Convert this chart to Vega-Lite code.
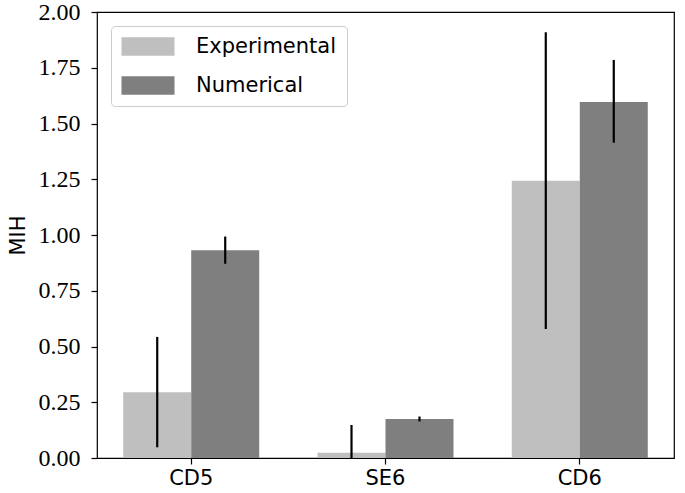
{
  "$schema": "https://vega.github.io/schema/vega-lite/v6.json",
  "autosize": "none",
  "padding": {"left": 97, "top": 12, "right": 11, "bottom": 35},
  "width": 577,
  "height": 446,
  "background": "white",
  "config": {
    "view": {"stroke": "black", "strokeWidth": 1.2},
    "axis": {"grid": false, "domain": false, "tickColor": "black", "tickSize": 6, "tickWidth": 1.2, "labelColor": "black", "titleColor": "black"}
  },
  "data": {
    "values": [
      {"sample": "CD5", "source": "Experimental", "mih": 0.295, "lo": 0.048, "hi": 0.543},
      {"sample": "CD5", "source": "Numerical", "mih": 0.932, "lo": 0.871, "hi": 0.993},
      {"sample": "SE6", "source": "Experimental", "mih": 0.024, "lo": -0.1, "hi": 0.148},
      {"sample": "SE6", "source": "Numerical", "mih": 0.175, "lo": 0.164, "hi": 0.186},
      {"sample": "CD6", "source": "Experimental", "mih": 1.243, "lo": 0.579, "hi": 1.909},
      {"sample": "CD6", "source": "Numerical", "mih": 1.596, "lo": 1.414, "hi": 1.785}
    ]
  },
  "encoding": {
    "x": {
      "field": "sample", "type": "nominal", "sort": ["CD5", "SE6", "CD6"],
      "scale": {"paddingInner": 0.3, "paddingOuter": 0.135},
      "axis": {"title": null, "labelAngle": 0, "labelFont": "DejaVu Sans", "labelFontSize": 21, "labelPadding": 3}
    },
    "xOffset": {"field": "source", "type": "nominal", "sort": ["Experimental", "Numerical"], "scale": {"paddingInner": 0, "paddingOuter": 0}}
  },
  "layer": [
    {
      "mark": {"type": "bar", "opacity": 1},
      "encoding": {
        "y": {
          "field": "mih", "type": "quantitative",
          "scale": {"domain": [0, 2], "nice": false, "zero": true},
          "axis": {
            "title": "MIH", "titleFont": "DejaVu Sans", "titleFontSize": 21, "titleFontWeight": "normal", "titlePadding": 10,
            "values": [0, 0.25, 0.5, 0.75, 1, 1.25, 1.5, 1.75, 2], "format": ".2f",
            "labelFont": "Liberation Serif", "labelFontSize": 24, "labelPadding": 11
          }
        },
        "color": {
          "field": "source", "type": "nominal", "sort": ["Experimental", "Numerical"],
          "scale": {"domain": ["Experimental", "Numerical"], "range": ["#bfbfbf", "#7f7f7f"]},
          "legend": {
            "title": null, "orient": "top-left", "offset": 14, "padding": 10,
            "strokeColor": "#cccccc", "fillColor": "white", "cornerRadius": 4,
            "symbolType": "M-1,-0.925H4.3V0.925H-1Z", "symbolSize": 400, "symbolStrokeWidth": 0, "symbolOpacity": 1,
            "labelFont": "DejaVu Sans", "labelFontSize": 21, "labelColor": "black", "labelOffset": 54, "rowPadding": 17
          }
        }
      }
    },
    {
      "mark": {"type": "rule", "color": "black", "strokeWidth": 2.2, "clip": true},
      "encoding": {
        "y": {"field": "lo", "type": "quantitative"},
        "y2": {"field": "hi"}
      }
    }
  ]
}
